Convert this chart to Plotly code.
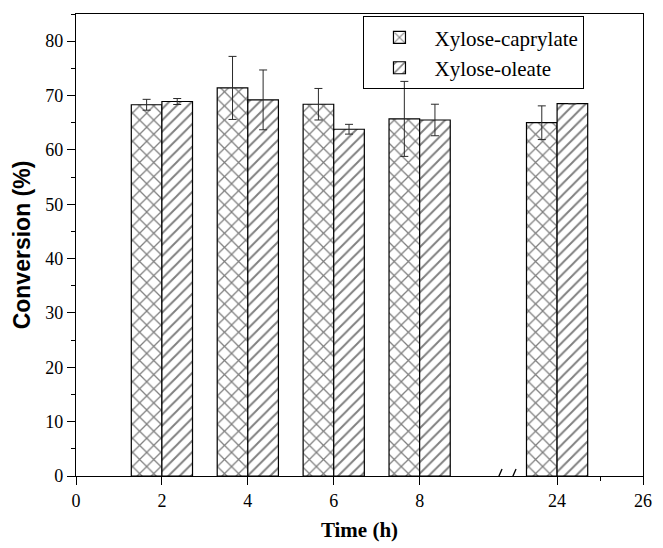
import plotly.graph_objects as go

# Reaction time (h) and conversion (%) with standard deviations
times = [2, 4, 6, 8, 24]
tick_hours = [0, 2, 4, 6, 8, 24, 26]
minor_hours = [25]
caprylate = [68.3, 71.4, 68.4, 65.7, 65.0]
caprylate_err = [1.0, 5.8, 2.9, 6.9, 3.1]
oleate = [68.9, 69.2, 63.8, 65.5, 68.5]
oleate_err = [0.55, 5.5, 0.9, 2.9, None]

# Broken time axis: 8 h and 24 h sit closer together than a linear scale would put them
BREAK_LO, BREAK_HI, GAP = 8, 24, 3.2


def axis_pos(h):
    return h if h <= BREAK_LO else h - BREAK_HI + BREAK_LO + GAP


BREAK_AT = BREAK_LO + 2.0
serif = "Liberation Serif, Times New Roman, serif"
sans = "Arial, Liberation Sans, sans-serif"

err_style = dict(type="data", visible=True, color="#2a2a2a", thickness=1, width=4)

fig = go.Figure()
fig.add_trace(go.Bar(
    name="Xylose-caprylate",
    x=[axis_pos(t) for t in times], y=caprylate,
    error_y=dict(array=caprylate_err, **err_style),
    marker=dict(color="white", line=dict(color="black", width=1.2),
                pattern=dict(shape="x", fgcolor="#000000", bgcolor="white",
                             size=10, solidity=0.24)),
))
fig.add_trace(go.Bar(
    name="Xylose-oleate",
    x=[axis_pos(t) for t in times], y=oleate,
    error_y=dict(array=oleate_err, **err_style),
    marker=dict(color="white", line=dict(color="black", width=1.2),
                pattern=dict(shape="/", fgcolor="#000000", bgcolor="white",
                             size=8, solidity=0.24)),
))

# Axis-break marks "//" on the bottom axis
fig.add_shape(type="line", xref="x", yref="y", xsizemode="pixel", ysizemode="pixel",
              xanchor=BREAK_AT, yanchor=0, x0=-8, x1=8, y0=0, y1=0,
              line=dict(color="white", width=3), layer="above")
for dx in (-7, 7):
    fig.add_shape(type="line", xref="x", yref="y", xsizemode="pixel", ysizemode="pixel",
                  xanchor=BREAK_AT, yanchor=0, x0=dx - 3.5, x1=dx + 3.5, y0=-9, y1=7,
                  line=dict(color="black", width=1.3), layer="above")

fig.update_layout(
    width=663, height=548,
    margin=dict(l=76, r=11, t=14, b=65),
    paper_bgcolor="white", plot_bgcolor="white",
    barmode="group", bargap=0.2875, bargroupgap=0,
    showlegend=True,
    legend=dict(x=0.507, y=0.995, xanchor="left", yanchor="top",
                bgcolor="rgba(255,255,255,0)", bordercolor="black", borderwidth=1,
                font=dict(family=serif, size=21, color="black"),
                itemwidth=60, entrywidth=228, entrywidthmode="pixels",
                tracegroupgap=0),
    font=dict(family=serif, color="black"),
)
fig.update_xaxes(
    range=[0, axis_pos(26)],
    tickmode="array",
    tickvals=[axis_pos(h) for h in tick_hours],
    ticktext=[str(h) for h in tick_hours],
    ticks="outside", ticklen=8, tickwidth=1, tickcolor="black",
    minor=dict(tickmode="array", tickvals=[axis_pos(h) for h in minor_hours],
               ticks="outside", ticklen=4, tickcolor="black"),
    showline=True, linecolor="black", linewidth=1.3, mirror=True,
    showgrid=False, zeroline=False,
    tickfont=dict(family=serif, size=18, color="black"),
    title=dict(text="<b>Time (h)</b>", font=dict(family=serif, size=21, color="black"),
               standoff=12),
)
fig.update_yaxes(
    range=[0, 85], dtick=10, tick0=0,
    ticks="outside", ticklen=8, tickwidth=1, tickcolor="black",
    minor=dict(dtick=5, ticks="outside", ticklen=4, tickcolor="black"),
    showline=True, linecolor="black", linewidth=1.3, mirror=True,
    showgrid=False, zeroline=False,
    tickfont=dict(family=serif, size=18, color="black"),
    title=dict(text="<b>Conversion (%)</b>", font=dict(family=sans, size=23, color="black"),
               standoff=8),
)

fig.write_html("out.html")
